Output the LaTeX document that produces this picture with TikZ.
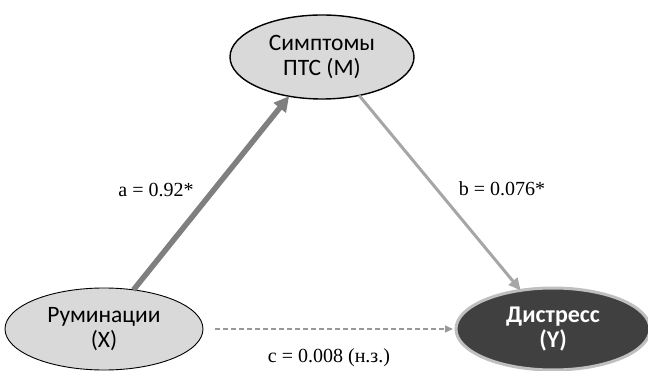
\documentclass[tikz,border=0pt]{standalone}
\usepackage{fontspec}
\setmainfont{Liberation Serif}
\newfontfamily\calib{Carlito}
\usetikzlibrary{arrows.meta,shapes.geometric}
\definecolor{nodefill}{HTML}{D9D9D9}
\definecolor{darkfill}{HTML}{404040}
\definecolor{glow}{HTML}{BFBFBF}
\definecolor{arrA}{HTML}{7F7F7F}
\definecolor{arrB}{HTML}{A6A6A6}
\definecolor{arrC}{HTML}{999999}
\begin{document}
\begin{tikzpicture}[x=1pt,y=-1pt,
  var/.style={ellipse,draw=black,line width=1.4pt,fill=nodefill,font=\calib\fontsize{23.5}{25}\selectfont,align=center,inner sep=0pt,outer sep=0pt},
  lab/.style={font=\fontsize{20}{22}\selectfont}]
\useasboundingbox (0,0) rectangle (648,371);
\node[var,minimum width=184,minimum height=84] (M) at (322,57) {Симптомы\\ПТС (М)};
\node[var,line width=0.9pt,minimum width=198,minimum height=82] (X) at (104,329) {Руминации\\(Х)};
\node[var,draw=glow,line width=3pt,fill=darkfill,text=white,font=\calib\bfseries\fontsize{24}{25}\selectfont,minimum width=194,minimum height=82] (Y) at (553,329) {Дистресс\\(Y)};
\draw[arrA,line width=5.5pt,-{Triangle[length=15pt,width=15pt]}] (X.53) -- (M.230);
\draw[arrB,line width=3pt,-{Triangle[length=12pt,width=11pt]}] (M.-46) -- (Y.130);
\draw[arrC,line width=1.5pt,dash pattern=on 5pt off 3pt,-{Triangle[length=8pt,width=7pt]}] ([xshift=12pt]X.east) -- ([xshift=-3pt]Y.west);
\node[lab] (la) at (156,190) {a = 0.92*};
\node[lab] (lb) at (502,189) {b = 0.076*};
\node[lab] (lc) at (329,358) {c = 0.008 (н.з.)};
\end{tikzpicture}
\end{document}
